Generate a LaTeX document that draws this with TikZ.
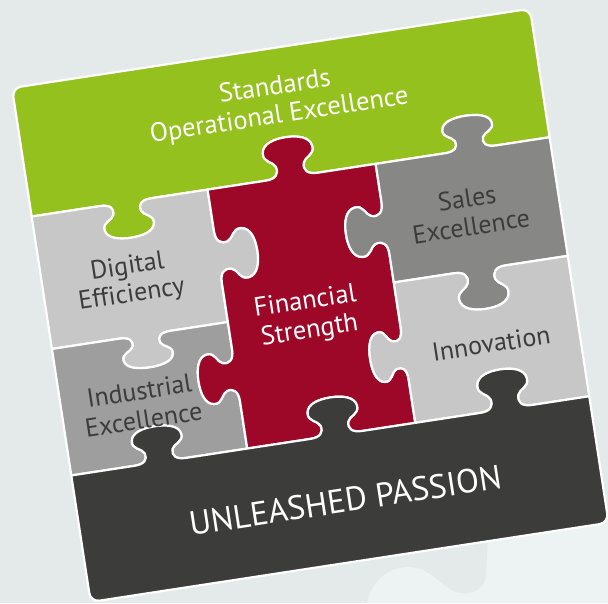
\documentclass[tikz,border=0pt]{standalone}
\usepackage{fontspec}
\setmainfont[Ligatures=CommonOff]{PT Sans}
\definecolor{grn}{RGB}{148,193,30}
\definecolor{rd}{RGB}{157,8,40}
\definecolor{gA}{RGB}{198,199,198}
\definecolor{gB}{RGB}{135,135,134}
\definecolor{gC}{RGB}{157,158,157}
\definecolor{dk}{RGB}{60,60,59}
\definecolor{txt}{RGB}{60,60,60}
\definecolor{bg}{RGB}{228,233,234}
\definecolor{bgl}{RGB}{237,242,242}
% horizontal edge knob: #1 centre u, #2 direction, #3 edge v, #4 signed depth
\newcommand\hk[4]{-- ({#1-(#2)*26},{#3})
 .. controls ({#1-(#2)*16},{#3}) and ({#1-(#2)*12},{#3+(#4)*0.12}) .. ({#1-(#2)*14},{#3+(#4)*0.3})
 .. controls ({#1-(#2)*16},{#3+(#4)*0.45}) and ({#1-(#2)*26},{#3+(#4)*0.45}) .. ({#1-(#2)*25},{#3+(#4)*0.68})
 .. controls ({#1-(#2)*24},{#3+(#4)*0.92}) and ({#1-(#2)*12},{#3+(#4)}) .. ({#1},{#3+(#4)})
 .. controls ({#1+(#2)*12},{#3+(#4)}) and ({#1+(#2)*24},{#3+(#4)*0.92}) .. ({#1+(#2)*25},{#3+(#4)*0.68})
 .. controls ({#1+(#2)*26},{#3+(#4)*0.45}) and ({#1+(#2)*16},{#3+(#4)*0.45}) .. ({#1+(#2)*14},{#3+(#4)*0.3})
 .. controls ({#1+(#2)*12},{#3+(#4)*0.12}) and ({#1+(#2)*16},{#3}) .. ({#1+(#2)*26},{#3})}
% vertical edge knob: #1 centre v, #2 direction, #3 edge u, #4 signed depth
\newcommand\vk[4]{-- ({#3},{#1-(#2)*26})
 .. controls ({#3},{#1-(#2)*16}) and ({#3+(#4)*0.12},{#1-(#2)*12}) .. ({#3+(#4)*0.3},{#1-(#2)*14})
 .. controls ({#3+(#4)*0.45},{#1-(#2)*16}) and ({#3+(#4)*0.45},{#1-(#2)*26}) .. ({#3+(#4)*0.68},{#1-(#2)*25})
 .. controls ({#3+(#4)*0.92},{#1-(#2)*24}) and ({#3+(#4)},{#1-(#2)*12}) .. ({#3+(#4)},{#1})
 .. controls ({#3+(#4)},{#1+(#2)*12}) and ({#3+(#4)*0.92},{#1+(#2)*24}) .. ({#3+(#4)*0.68},{#1+(#2)*25})
 .. controls ({#3+(#4)*0.45},{#1+(#2)*26}) and ({#3+(#4)*0.45},{#1+(#2)*16}) .. ({#3+(#4)*0.3},{#1+(#2)*14})
 .. controls ({#3+(#4)*0.12},{#1+(#2)*12}) and ({#3},{#1+(#2)*16}) .. ({#3},{#1+(#2)*26})}
\tikzset{
 pc/.style={draw=white, line width=2.2pt, line join=round},
 lbl/.style={rotate=8.7, align=center, inner sep=0pt},
 wlbl/.style={lbl, text=white, font=\fontsize{26.5}{29}\selectfont},
 dlbl/.style={lbl, text=txt, font=\fontsize{26}{28}\selectfont}
}
\begin{document}
\begin{tikzpicture}[x=1pt,y=-1pt]
\useasboundingbox (0,0) rectangle (608,603);
\fill[bg] (0,0) rectangle (608,603);
\fill[bgl] (367,603) .. controls (372,580) and (390,566) .. (410,567)
  .. controls (430,568) and (440,585) .. (455,592)
  .. controls (470,597) and (485,590) .. (486,575) -- (488,540) -- (608,515) -- (608,603) -- cycle;
\begin{scope}[shift={(12,88)},rotate=8.7]
% green
\path[pc,fill=grn] (0,130) -- (0,100) [rounded corners=9] -- (0,0) -- (524,0) -- (524,100) [sharp corners] -- (524,130)
  \hk{444}{-1}{130}{-34} \hk{263}{-1}{130}{-40} \hk{95}{-1}{130}{36} -- cycle;
% digital
\path[pc,fill=gA] (0,130) \hk{95}{1}{130}{36} -- (178,130) \vk{198}{1}{178}{40} -- (178,264)
  \hk{94}{-1}{264}{33} -- (0,264) -- cycle;
% industrial
\path[pc,fill=gC] (0,264) \hk{94}{1}{264}{33} -- (178,264) \vk{318}{1}{178}{-38} -- (178,392)
  \hk{90}{-1}{392}{-36} -- (0,392) -- cycle;
% red
\path[pc,fill=rd] (178,130) \hk{263}{1}{130}{-40} -- (348,130) \vk{195}{1}{348}{-40} \vk{322}{1}{348}{-35}
  -- (348,392) \hk{268}{-1}{392}{-38} -- (178,392) \vk{318}{-1}{178}{-38} \vk{198}{-1}{178}{40} -- cycle;
% sales
\path[pc,fill=gB] (348,130) \hk{444}{1}{130}{-34} -- (524,130) -- (524,250) \hk{435}{-1}{250}{40}
  -- (348,250) \vk{195}{-1}{348}{-40} -- cycle;
% innovation
\path[pc,fill=gA] (348,250) \hk{435}{1}{250}{40} -- (524,250) -- (524,392) \hk{440}{-1}{392}{-40}
  -- (348,392) \vk{322}{-1}{348}{-35} -- cycle;
% dark
\path[pc,fill=dk] (0,392) \hk{90}{1}{392}{-36} \hk{268}{1}{392}{-38} \hk{440}{1}{392}{-40} -- (524,392)
  -- (524,420) [rounded corners=9] -- (524,520) -- (0,520) -- (0,420) [sharp corners] -- cycle;
% labels
\node[wlbl] (std) at (260,54) {Standards\\Operational Excellence};
\node[dlbl] (dig) at (87,209) {Digital\\Efficiency};
\node[dlbl, font=\fontsize{26}{29}\selectfont] (ind) at (80,333) {Industrial\\Excellence};
\node[wlbl] (fin) at (257.5,271) {Financial\\Strength};
\node[dlbl] (sal) at (433,192) {Sales\\Excellence};
\node[dlbl] (inn) at (435,325) {Innovation};
\node[lbl, text=white, font=\fontsize{33.5}{37}\selectfont] (pas) at (267,458) {UNLEASHED PASSION};
\end{scope}
\end{tikzpicture}
\end{document}
